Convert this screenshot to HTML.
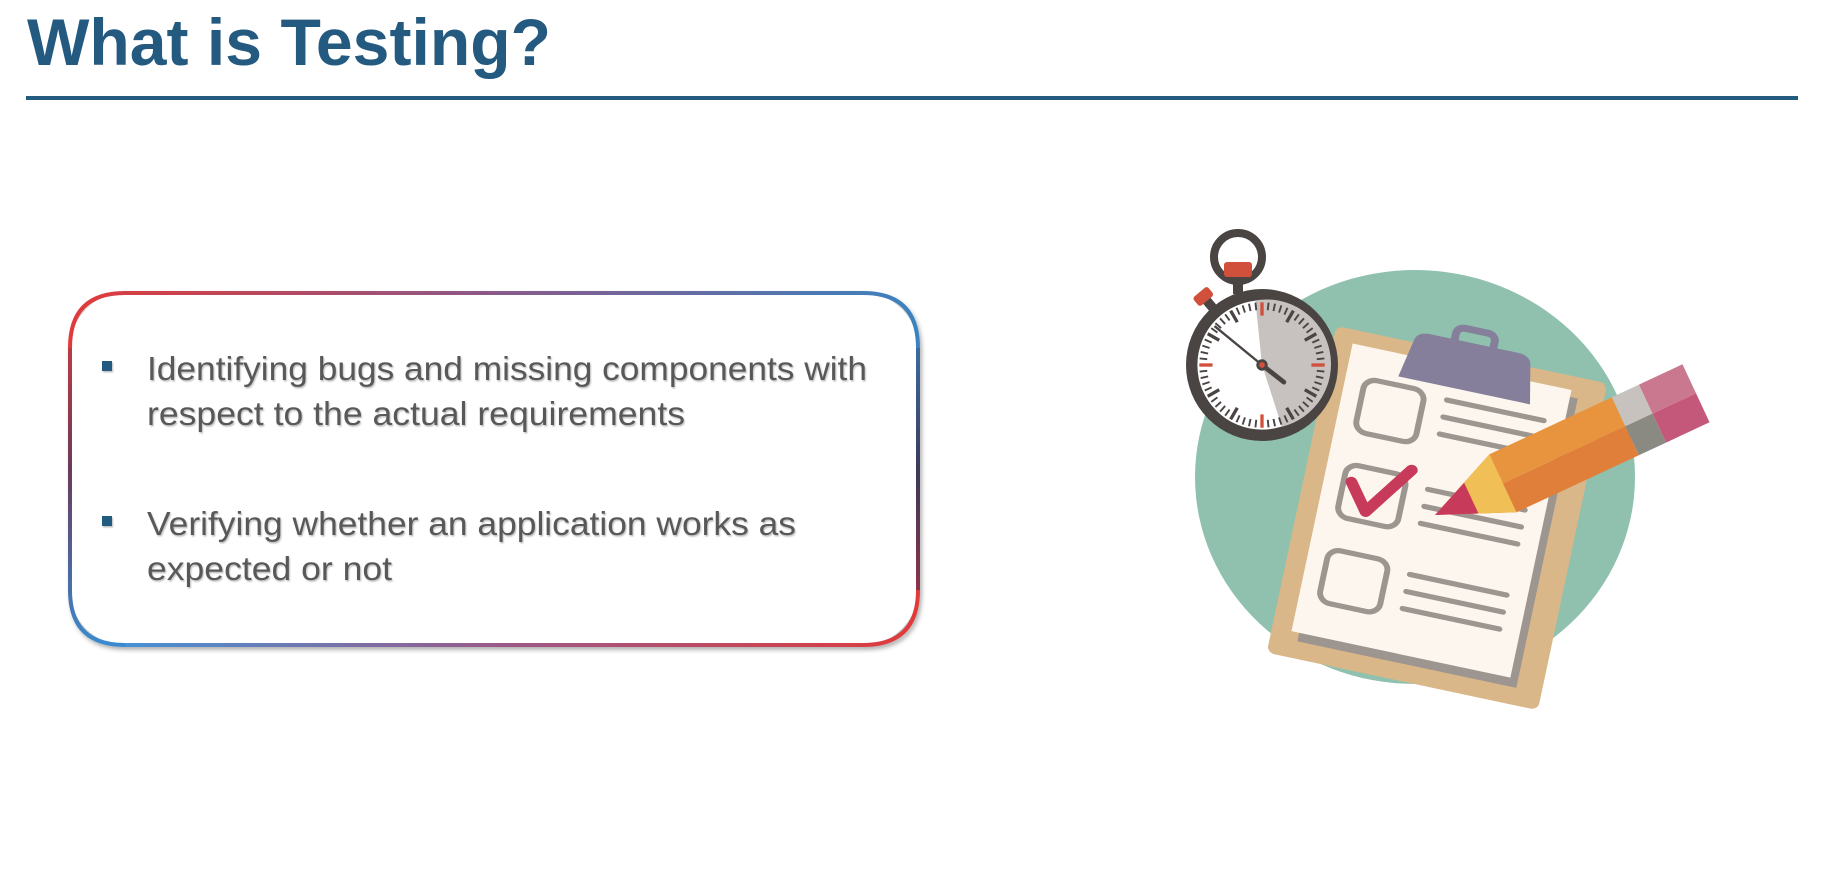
<!DOCTYPE html>
<html><head><meta charset="utf-8"><style>
html,body{margin:0;padding:0;background:#fff;}
svg{display:block;}
</style></head><body>
<svg width="1848" height="870" viewBox="0 0 1848 870" xmlns="http://www.w3.org/2000/svg">
<defs>
<linearGradient id="gTop" gradientUnits="userSpaceOnUse" x1="70" x2="918" y1="0" y2="0"><stop offset="0" stop-color="#e03a3a"/><stop offset="0.5" stop-color="#8a5a8a"/><stop offset="1" stop-color="#3a82c0"/></linearGradient>
<linearGradient id="gBot" gradientUnits="userSpaceOnUse" x1="70" x2="918" y1="0" y2="0"><stop offset="0" stop-color="#3a9ae0"/><stop offset="0.5" stop-color="#9a5a8a"/><stop offset="1" stop-color="#e03a3a"/></linearGradient>
<linearGradient id="gLeft" gradientUnits="userSpaceOnUse" x1="0" x2="0" y1="293" y2="645"><stop offset="0" stop-color="#e03a3a"/><stop offset="0.5" stop-color="#6a3a5a"/><stop offset="1" stop-color="#3a8ad0"/></linearGradient>
<linearGradient id="gRight" gradientUnits="userSpaceOnUse" x1="0" x2="0" y1="293" y2="645"><stop offset="0" stop-color="#3a82c0"/><stop offset="0.5" stop-color="#3a3a5a"/><stop offset="1" stop-color="#b03040"/></linearGradient>
<filter id="sh" x="-5%" y="-5%" width="110%" height="115%"><feDropShadow dx="2" dy="3" stdDeviation="2" flood-color="#000" flood-opacity="0.3"/></filter>
<filter id="tsh"><feDropShadow dx="1" dy="1.5" stdDeviation="0.8" flood-color="#000" flood-opacity="0.25"/></filter>
</defs>

<text x="27" y="65" font-family="Liberation Sans, sans-serif" font-weight="bold" font-size="66" fill="#245a80" textLength="524" lengthAdjust="spacingAndGlyphs">What is Testing?</text>
<rect x="26" y="96" width="1772" height="4" fill="#245a80"/>

<g filter="url(#sh)">
<rect x="70" y="293" width="848" height="352" rx="55" fill="#fff"/>
<path d="M70 348 Q70 293 125 293 L863 293 Q918 293 918 348" fill="none" stroke="url(#gTop)" stroke-width="4"/>
<path d="M70 348 L70 590 Q70 645 125 645" fill="none" stroke="url(#gLeft)" stroke-width="4"/>
<path d="M125 645 L863 645 Q918 645 918 590" fill="none" stroke="url(#gBot)" stroke-width="4"/>
<path d="M918 348 L918 590" fill="none" stroke="url(#gRight)" stroke-width="4"/>
</g>

<g font-family="Liberation Sans, sans-serif" font-size="33" fill="#595959" filter="url(#tsh)">
<rect x="102" y="361" width="10" height="10" fill="#245a80"/>
<text x="147" y="380" textLength="720" lengthAdjust="spacingAndGlyphs">Identifying bugs and missing components with</text>
<text x="147" y="425" textLength="538" lengthAdjust="spacingAndGlyphs">respect to the actual requirements</text>
<rect x="102" y="516" width="10" height="10" fill="#245a80"/>
<text x="147" y="535" textLength="649" lengthAdjust="spacingAndGlyphs">Verifying whether an application works as</text>
<text x="147" y="580" textLength="245" lengthAdjust="spacingAndGlyphs">expected or not</text>
</g>

<g>
<ellipse cx="1415" cy="477" rx="220" ry="207" fill="#8fc1ae"/>
<g transform="translate(1437,518) rotate(12) scale(0.99,0.87)">
<rect x="-140" y="-192" width="280" height="384" rx="8" fill="#dab789"/>
<rect x="-112" y="-168" width="226" height="340" fill="#9c9590"/>
<rect x="-120" y="-176" width="226" height="338" fill="#fcf6ee"/>
<path d="M-68 -150 L-60 -195 Q-58 -205 -45 -205 L45 -205 Q58 -205 60 -195 L68 -150 Z" fill="#857f9b"/>
<rect x="-20" y="-220" width="40" height="22" rx="8" fill="none" stroke="#857f9b" stroke-width="8"/>
<g fill="none" stroke="#9c9590" stroke-width="6" stroke-linecap="round">
<rect x="-100" y="-140" width="62" height="62" rx="12"/>
<rect x="-100" y="-40" width="62" height="62" rx="12"/>
<rect x="-100" y="60" width="62" height="62" rx="12"/>
<line x1="-15" y1="-135" x2="85" y2="-135"/><line x1="-15" y1="-115" x2="85" y2="-115"/><line x1="-15" y1="-95" x2="85" y2="-95"/>
<line x1="-15" y1="-30" x2="85" y2="-30"/><line x1="-15" y1="-10" x2="85" y2="-10"/><line x1="-15" y1="10" x2="85" y2="10"/>
<line x1="-15" y1="70" x2="85" y2="70"/><line x1="-15" y1="90" x2="85" y2="90"/><line x1="-15" y1="110" x2="85" y2="110"/>
</g>
<path d="M-92 -20 L-72 10 L-35 -48" fill="none" stroke="#c83a5a" stroke-width="12" stroke-linecap="round" stroke-linejoin="round"/>
</g>
<g transform="translate(1435,515) rotate(-25)">
<polygon points="0,0 75,-32 210,-32 210,0" fill="#e8943f"/>
<polygon points="0,0 75,32 210,32 210,0" fill="#df7f3a"/>
<polygon points="40,-17 75,-32 75,32 40,17" fill="#f0bf55"/>
<polygon points="0,0 40,-17 40,17" fill="#c83a5a"/>
<rect x="210" y="-32" width="30" height="32" fill="#c7c2be"/>
<rect x="210" y="0" width="30" height="32" fill="#8a8a82"/>
<rect x="240" y="-32" width="48" height="32" fill="#c9788f"/>
<rect x="240" y="0" width="48" height="32" fill="#c4587a"/>
</g>
<g>
<circle cx="1238" cy="257" r="24" fill="none" stroke="#4a4443" stroke-width="8"/>
<rect x="1233" y="272" width="10" height="22" fill="#4a4443"/>
<rect x="1224" y="262" width="28" height="15" rx="3" fill="#d0503c"/>
<g transform="translate(1262,365) scale(0.95) translate(-1262,-387)">
<g transform="rotate(-40 1262 387)"><rect x="1256" y="296" width="10" height="12" fill="#4a4443"/><rect x="1251" y="286" width="20" height="12" rx="3" fill="#d0503c"/></g>
<circle cx="1262" cy="387" r="80" fill="#4a4443"/>
<circle cx="1262" cy="387" r="68" fill="#fff"/>
<path d="M1262 387 L1255 319 A68 68 0 0 1 1283 452 Z" fill="#c7c2c0"/>
<g id="ticks"></g>
<line x1="1262" y1="387" x2="1212" y2="346" stroke="#4a4443" stroke-width="2.5"/>
<line x1="1262" y1="387" x2="1285" y2="405" stroke="#4a4443" stroke-width="5" stroke-linecap="round"/>
<circle cx="1262" cy="387" r="6" fill="#4a4443"/><circle cx="1262" cy="387" r="3" fill="#d0503c"/>
</g>
</g>
</g>
</svg>
<script>
var g=document.getElementById('ticks');
for(var i=0;i<60;i++){var a=i*6*Math.PI/180,big=i%5==0,r1=big?52:58,r2=66;
var l=document.createElementNS('http://www.w3.org/2000/svg','line');
l.setAttribute('x1',1262+r1*Math.sin(a));l.setAttribute('y1',387-r1*Math.cos(a));
l.setAttribute('x2',1262+r2*Math.sin(a));l.setAttribute('y2',387-r2*Math.cos(a));
l.setAttribute('stroke',(i%15==0)?'#d0503c':'#4a4443');l.setAttribute('stroke-width',big?3.5:2);


g.appendChild(l);}
</script>
</body></html>
